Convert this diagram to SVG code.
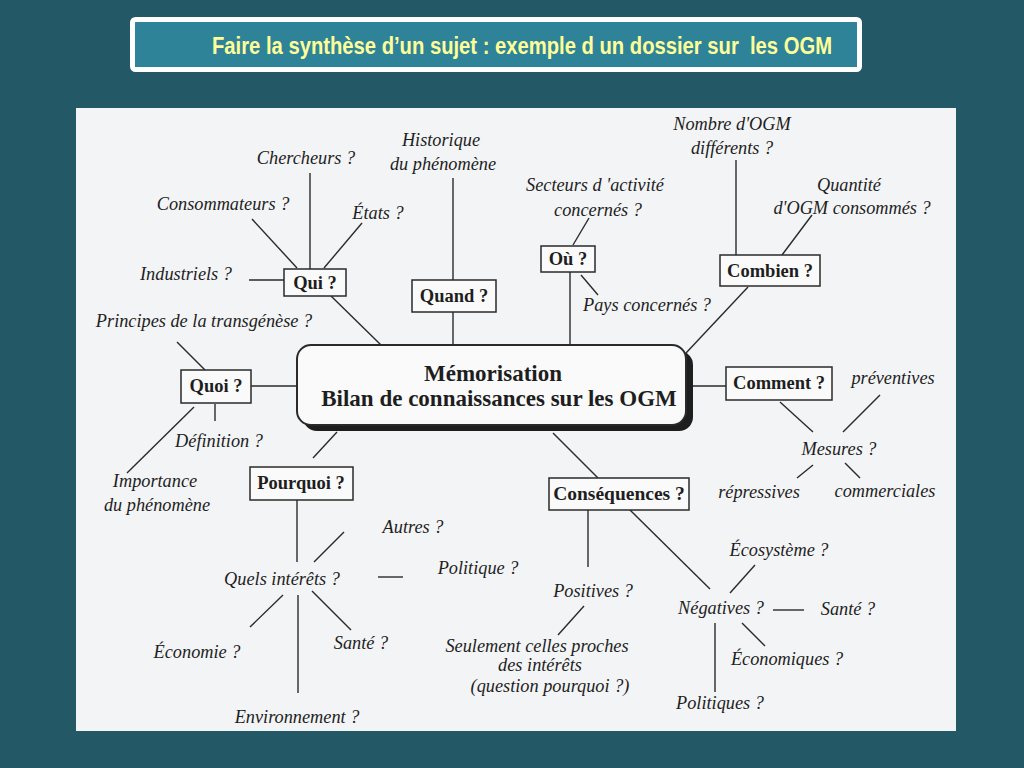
<svg xmlns="http://www.w3.org/2000/svg" width="1024" height="768" viewBox="0 0 1024 768">
<style>
.lbl{font-family:"Liberation Serif","Times New Roman",serif;font-style:italic;font-size:18.3px;fill:#1e1e1e;text-anchor:middle}
.box{fill:#fafafa;stroke:#2a2a2a;stroke-width:1.5}
.bt{font-family:"Liberation Serif","Times New Roman",serif;font-weight:bold;font-size:18.5px;fill:#1e1e1e;text-anchor:middle}
.ct{font-family:"Liberation Serif","Times New Roman",serif;font-weight:bold;font-size:23px;fill:#1e1e1e;text-anchor:middle}
.ln{stroke:#2a2a2a;stroke-width:1.4;fill:none}
</style>
<rect x="0" y="0" width="1024" height="768" fill="#235866"/>
<g id="title">
<rect x="132.5" y="19.5" width="727" height="50" rx="3" fill="#2e8399" stroke="#ffffff" stroke-width="5"/>
<text x="212" y="54" xml:space="preserve" font-family="Liberation Sans, Arial, sans-serif" font-weight="bold" font-size="23" fill="#ffff99" textLength="620" lengthAdjust="spacingAndGlyphs">Faire la synthèse d’un sujet : exemple d un dossier sur  les OGM</text>
</g>
<rect x="76" y="108" width="880" height="623" fill="#f3f4f6"/>
<g id="connectors" class="ln">
<line x1="310" y1="173" x2="310" y2="269"/>
<line x1="252" y1="219" x2="297" y2="268"/>
<line x1="362" y1="223" x2="324" y2="268"/>
<line x1="249" y1="280" x2="284" y2="280"/>
<line x1="331" y1="296" x2="381" y2="345"/>
<line x1="453" y1="178" x2="453" y2="280"/>
<line x1="453" y1="312" x2="453" y2="345"/>
<line x1="589" y1="218" x2="573" y2="245"/>
<line x1="570" y1="272" x2="570" y2="345"/>
<line x1="581" y1="275" x2="598" y2="295"/>
<line x1="736" y1="160" x2="736" y2="255"/>
<line x1="812" y1="215" x2="782" y2="255"/>
<line x1="748" y1="287" x2="686" y2="353"/>
<line x1="251" y1="386" x2="297" y2="386"/>
<line x1="177" y1="342" x2="205" y2="370"/>
<line x1="215" y1="404" x2="215" y2="421"/>
<line x1="194" y1="407" x2="127" y2="473"/>
<line x1="313" y1="458" x2="337" y2="432"/>
<line x1="297" y1="500" x2="297" y2="562"/>
<line x1="344" y1="532" x2="314" y2="562"/>
<line x1="378" y1="577" x2="403" y2="577"/>
<line x1="283" y1="595" x2="250" y2="627"/>
<line x1="298" y1="595" x2="298" y2="693"/>
<line x1="312" y1="591" x2="351" y2="630"/>
<line x1="687" y1="386" x2="726" y2="386"/>
<line x1="780" y1="402" x2="813" y2="432"/>
<line x1="880" y1="395" x2="843" y2="432"/>
<line x1="813" y1="465" x2="797" y2="478"/>
<line x1="845" y1="463" x2="860" y2="478"/>
<line x1="553" y1="433" x2="598" y2="478"/>
<line x1="588" y1="510" x2="588" y2="567"/>
<line x1="630" y1="510" x2="710" y2="589"/>
<line x1="584" y1="606" x2="558" y2="635"/>
<line x1="755" y1="565" x2="730" y2="593"/>
<line x1="773" y1="610" x2="804" y2="610"/>
<line x1="742" y1="623" x2="765" y2="646"/>
<line x1="715" y1="623" x2="715" y2="692"/>
</g>
<g id="center">
<rect x="303" y="351" width="390" height="80" rx="14" fill="#1e1e1e"/>
<rect x="297" y="345" width="389" height="80" rx="14" fill="#fafafa" stroke="#2a2a2a" stroke-width="2"/>
<text x="493" y="381" class="ct">Mémorisation</text>
<text x="499" y="406" class="ct">Bilan de connaissances sur les OGM</text>
</g>
<g id="qui">
<rect x="284" y="269" width="62" height="27" class="box"/>
<text x="315" y="289" class="bt">Qui ?</text>
<text x="306" y="164" class="lbl">Chercheurs ?</text>
<text x="223" y="210" class="lbl">Consommateurs ?</text>
<text x="378" y="219" class="lbl">États ?</text>
<text x="186" y="280" class="lbl">Industriels ?</text>
</g>
<g id="quand">
<rect x="412" y="280" width="84" height="32" class="box"/>
<text x="454" y="302" class="bt">Quand ?</text>
<text x="441" y="146" class="lbl">Historique</text>
<text x="443" y="170" class="lbl">du phénomène</text>
</g>
<g id="ou">
<rect x="541" y="246" width="54" height="26" class="box"/>
<text x="568" y="265" class="bt">Où ?</text>
<text x="595" y="191" class="lbl">Secteurs d 'activité</text>
<text x="598" y="216" class="lbl">concernés ?</text>
<text x="647" y="311" class="lbl">Pays concernés ?</text>
</g>
<g id="combien">
<rect x="720" y="255" width="100" height="31" class="box"/>
<text x="770" y="277" class="bt">Combien ?</text>
<text x="732" y="130" class="lbl">Nombre d'OGM</text>
<text x="732" y="154" class="lbl">différents ?</text>
<text x="849" y="191" class="lbl">Quantité</text>
<text x="852" y="214" class="lbl">d'OGM consommés ?</text>
</g>
<g id="quoi">
<rect x="181" y="370" width="70" height="33" class="box"/>
<text x="216" y="392" class="bt">Quoi ?</text>
<text x="204" y="327" class="lbl">Principes de la transgénèse ?</text>
<text x="219" y="447" class="lbl">Définition ?</text>
<text x="155" y="487" class="lbl">Importance</text>
<text x="157" y="511" class="lbl">du phénomène</text>
</g>
<g id="pourquoi">
<rect x="250" y="467" width="103" height="33" class="box"/>
<text x="301" y="489" class="bt">Pourquoi ?</text>
<text x="282" y="585" class="lbl">Quels intérêts ?</text>
<text x="413" y="533" class="lbl">Autres ?</text>
<text x="478" y="574" class="lbl">Politique ?</text>
<text x="197" y="658" class="lbl">Économie ?</text>
<text x="361" y="649" class="lbl">Santé ?</text>
<text x="297" y="723" class="lbl">Environnement ?</text>
</g>
<g id="comment">
<rect x="726" y="367" width="106" height="33" class="box"/>
<text x="779" y="389" class="bt">Comment ?</text>
<text x="893" y="384" class="lbl">préventives</text>
<text x="839" y="455" class="lbl">Mesures ?</text>
<text x="759" y="498" class="lbl">répressives</text>
<text x="885" y="497" class="lbl">commerciales</text>
</g>
<g id="consequences">
<rect x="549" y="478" width="140" height="32" class="box"/>
<text x="619" y="500" class="bt" style="font-size:19.5px">Conséquences ?</text>
<text x="593" y="597" class="lbl">Positives ?</text>
<text x="537" y="652" class="lbl">Seulement celles proches</text>
<text x="540" y="671" class="lbl">des intérêts</text>
<text x="550" y="692" class="lbl">(question pourquoi ?)</text>
<text x="721" y="614" class="lbl">Négatives ?</text>
<text x="779" y="556" class="lbl">Écosystème ?</text>
<text x="848" y="615" class="lbl">Santé ?</text>
<text x="787" y="665" class="lbl">Économiques ?</text>
<text x="720" y="709" class="lbl">Politiques ?</text>
</g>
</svg>
